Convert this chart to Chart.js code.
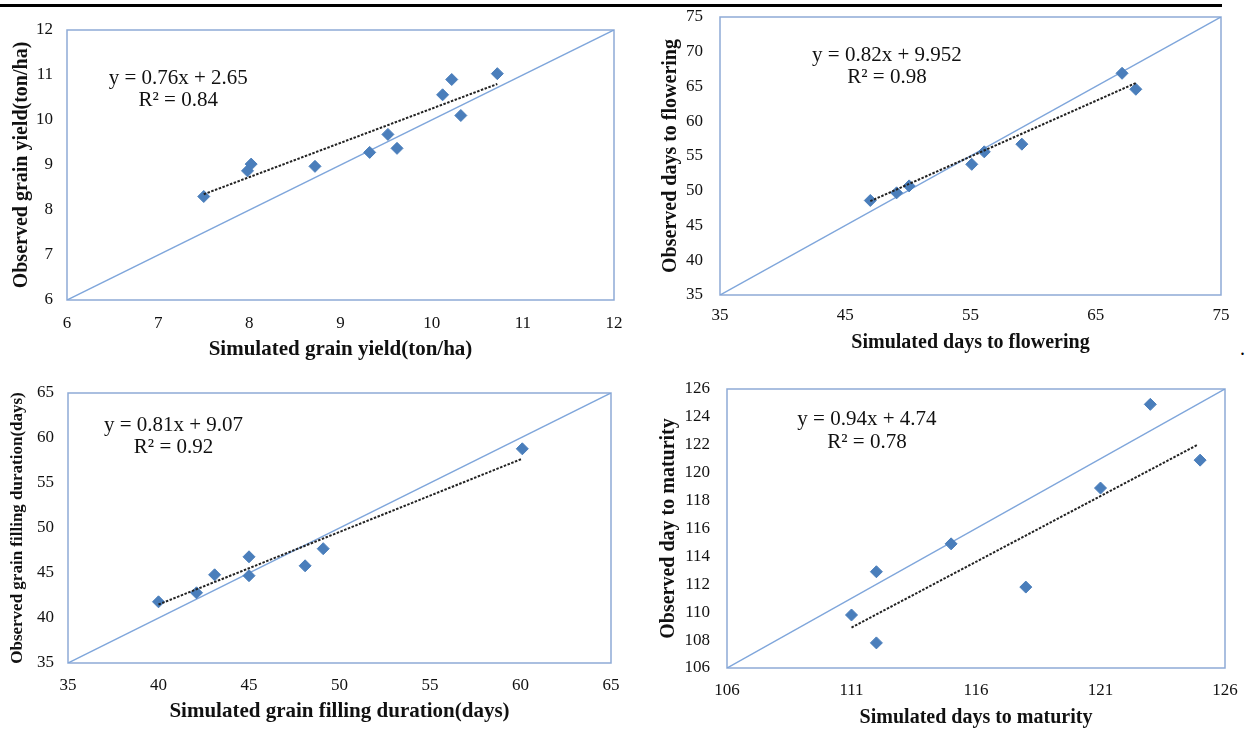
<!DOCTYPE html>
<html>
<head>
<meta charset="utf-8">
<script src="https://cdn.jsdelivr.net/npm/chart.js@4.4.1/dist/chart.umd.min.js"></script>
<style>
    body { margin: 0; background: #fff; width: 1247px; height: 731px; position: relative; overflow: hidden; font-family: "Liberation Serif", serif; }
    canvas { position: absolute; }
    #rule { position: absolute; left: 0; top: 4px; width: 1222px; height: 3px; background: #000; }
    #dot { position: absolute; left: 1240px; top: 338px; font-size: 20px; line-height: 20px; }
</style>
</head>
<body>
<div id="rule"></div>
<span id="dot">.</span>
<canvas id="yieldChart" width="630" height="360" style="left:0;top:10px"></canvas>
<canvas id="floweringChart" width="617" height="365" style="left:630px;top:0"></canvas>
<canvas id="fillingChart" width="630" height="361" style="left:0;top:370px"></canvas>
<canvas id="maturityChart" width="617" height="361" style="left:630px;top:370px"></canvas>
<script>
// Grain yield (ton/ha)
const yieldSim = [7.5, 7.98, 8.02, 8.72, 9.32, 9.52, 9.62, 10.12, 10.22, 10.32, 10.72];
const yieldObs = [8.3, 8.87, 9.02, 8.97, 9.28, 9.68, 9.37, 10.56, 10.9, 10.1, 11.03];
const yieldTrendX = [7.5, 10.72];
const yieldTrendY = [8.35, 10.8];
const yieldTicksX = [6, 7, 8, 9, 10, 11, 12];
const yieldTicksY = [6, 7, 8, 9, 10, 11, 12];
const yieldEquation = ['y = 0.76x + 2.65', 'R² = 0.84'];

// Days to flowering
const flowerSim = [47.0, 49.1, 50.1, 55.1, 56.1, 59.1, 67.1, 68.2];
const flowerObs = [48.6, 49.7, 50.7, 53.8, 55.6, 56.7, 66.9, 64.6];
const flowerTrendX = [47.0, 68.2];
const flowerTrendY = [48.5, 65.5];
const flowerTicksX = [35, 45, 55, 65, 75];
const flowerTicksY = [35, 40, 45, 50, 55, 60, 65, 70, 75];
const flowerEquation = ['y = 0.82x + 9.952', 'R² = 0.98'];

// Grain filling duration (days)
const fillSim = [40.0, 42.1, 43.1, 45.0, 45.0, 48.1, 49.1, 60.1];
const fillObs = [41.8, 42.8, 44.8, 46.8, 44.7, 45.8, 47.7, 58.8];
const fillTrendX = [40.0, 60.1];
const fillTrendY = [41.5, 57.7];
const fillTicksX = [35, 40, 45, 50, 55, 60, 65];
const fillTicksY = [35, 40, 45, 50, 55, 60, 65];
const fillEquation = ['y = 0.81x + 9.07', 'R² = 0.92'];

// Days to maturity
const maturitySim = [111.0, 112.0, 112.0, 115.0, 118.0, 121.0, 123.0, 125.0];
const maturityObs = [109.8, 112.9, 107.8, 114.9, 111.8, 118.9, 124.9, 120.9];
const maturityTrendX = [111.0, 124.9];
const maturityTrendY = [108.9, 122.0];
const maturityTicksX = [106, 111, 116, 121, 126];
const maturityTicksY = [106, 108, 110, 112, 114, 116, 118, 120, 122, 124, 126];
const maturityEquation = ['y = 0.94x + 4.74', 'R² = 0.78'];

const SERIF = '"Liberation Serif", "Times New Roman", serif';
const MARKER = '#4a7ebb';
const ONE_TO_ONE = '#7fa6db';
const FRAME = '#8eaad6';

const framePlugin = {
    id: 'frame',
    beforeDatasetsDraw(chart) {
        const a = chart.chartArea;
        const ctx = chart.ctx;
        ctx.save();
        ctx.strokeStyle = FRAME;
        ctx.lineWidth = 1.5;
        ctx.strokeRect(a.left, a.top, a.right - a.left, a.bottom - a.top);
        ctx.restore();
    },
    afterDatasetsDraw(chart, args, opts) {
        if (!opts.lines) return;
        const ctx = chart.ctx;
        const x = chart.scales.x.getPixelForValue(opts.at[0]);
        const y = chart.scales.y.getPixelForValue(opts.at[1]);
        ctx.save();
        ctx.fillStyle = '#111';
        ctx.font = '21px ' + SERIF;
        ctx.textAlign = 'center';
        ctx.textBaseline = 'middle';
        opts.lines.forEach((line, i) => ctx.fillText(line, x, y + i * 22.5));
        ctx.restore();
    }
};

function toPoints(xs, ys) {
    return xs.map((v, i) => ({ x: v, y: ys[i] }));
}

function makeChart(id, c) {
    const ctx = document.getElementById(id).getContext('2d');
    const box = c.box, plot = c.plot;
    const xFirst = c.ticksX[0], xLast = c.ticksX[c.ticksX.length - 1];
    const yFirst = c.ticksY[0], yLast = c.ticksY[c.ticksY.length - 1];

    return new Chart(ctx, {
        type: 'scatter',
        data: {
            datasets: [
                {
                    // linear trendline (dotted)
                    type: 'line',
                    data: toPoints(c.trendX, c.trendY),
                    borderColor: '#222',
                    borderWidth: 2,
                    borderDash: [2.5, 1.5],
                    pointRadius: 0,
                    fill: false
                },
                {
                    data: toPoints(c.sim, c.obs),
                    pointStyle: 'rectRot',
                    pointRadius: 6,
                    backgroundColor: MARKER,
                    borderColor: MARKER,
                    borderWidth: 1
                },
                {
                    // 1:1 line
                    type: 'line',
                    data: [{ x: xFirst, y: yFirst }, { x: xLast, y: yLast }],
                    borderColor: ONE_TO_ONE,
                    borderWidth: 1.5,
                    pointRadius: 0,
                    fill: false
                }
            ]
        },
        options: {
            responsive: false,
            animation: false,
            devicePixelRatio: 1,
            layout: {
                padding: { top: plot.t - box.y, right: box.x + box.w - plot.r, left: 0, bottom: 0 }
            },
            plugins: {
                legend: { display: false },
                tooltip: { enabled: false },
                frame: { lines: c.equation, at: c.equationAt }
            },
            scales: {
                x: {
                    type: 'linear',
                    min: xFirst,
                    max: xLast,
                    grid: { display: false, drawTicks: false },
                    border: { display: false },
                    afterBuildTicks: scale => { scale.ticks = c.ticksX.map(v => ({ value: v })); },
                    afterFit: scale => {
                        scale.height = box.y + box.h - plot.b;
                        scale.paddingLeft = 0;
                        scale.paddingRight = 0;
                    },
                    ticks: {
                        padding: c.tickPadX,
                        color: '#111',
                        font: { family: SERIF, size: 17 },
                        maxRotation: 0,
                        autoSkip: false
                    },
                    title: {
                        display: true,
                        text: c.xTitle,
                        color: '#111',
                        font: { family: SERIF, size: c.xTitleSize, weight: 'bold' },
                        padding: { top: 0, bottom: (box.y + box.h - c.xTitleY) - c.xTitleSize * 0.6 }
                    }
                },
                y: {
                    type: 'linear',
                    min: yFirst,
                    max: yLast,
                    grid: { display: false, drawTicks: false },
                    border: { display: false },
                    afterBuildTicks: scale => { scale.ticks = c.ticksY.map(v => ({ value: v })); },
                    afterFit: scale => {
                        scale.width = plot.l - box.x;
                        scale.paddingTop = 0;
                        scale.paddingBottom = 0;
                    },
                    ticks: {
                        padding: c.tickPadY,
                        color: '#111',
                        font: { family: SERIF, size: 17 },
                        autoSkip: false
                    },
                    title: {
                        display: true,
                        text: c.yTitle,
                        color: '#111',
                        font: { family: SERIF, size: c.yTitleSize, weight: 'bold' },
                        padding: { top: (c.yTitleX - box.x) - c.yTitleSize * 0.6, bottom: 0 }
                    }
                }
            }
        },
        plugins: [framePlugin]
    });
}

document.addEventListener('DOMContentLoaded', function() {
    makeChart('yieldChart', {
        sim: yieldSim, obs: yieldObs, trendX: yieldTrendX, trendY: yieldTrendY,
        ticksX: yieldTicksX, ticksY: yieldTicksY,
        equation: yieldEquation, equationAt: [7.22, 10.93],
        xTitle: 'Simulated grain yield(ton/ha)', yTitle: 'Observed grain yield(ton/ha)',
        box: { x: 0, y: 10, w: 630, h: 360 }, plot: { l: 67, t: 30, r: 614, b: 300 },
        tickPadX: 13, tickPadY: 14,
        xTitleSize: 21, xTitleY: 350, yTitleSize: 20, yTitleX: 22
    });

    makeChart('floweringChart', {
        sim: flowerSim, obs: flowerObs, trendX: flowerTrendX, trendY: flowerTrendY,
        ticksX: flowerTicksX, ticksY: flowerTicksY,
        equation: flowerEquation, equationAt: [48.33, 69.5],
        xTitle: 'Simulated days to flowering', yTitle: 'Observed days to flowering',
        box: { x: 630, y: 0, w: 617, h: 365 }, plot: { l: 720, t: 17, r: 1221, b: 295 },
        tickPadX: 10, tickPadY: 17,
        xTitleSize: 20, xTitleY: 343, yTitleSize: 20, yTitleX: 671
    });

    makeChart('fillingChart', {
        sim: fillSim, obs: fillObs, trendX: fillTrendX, trendY: fillTrendY,
        ticksX: fillTicksX, ticksY: fillTicksY,
        equation: fillEquation, equationAt: [40.83, 61.4],
        xTitle: 'Simulated grain filling duration(days)', yTitle: 'Observed grain filling duration(days)',
        box: { x: 0, y: 370, w: 630, h: 361 }, plot: { l: 68, t: 393, r: 611, b: 663 },
        tickPadX: 12, tickPadY: 14,
        xTitleSize: 21, xTitleY: 712, yTitleSize: 17, yTitleX: 18
    });

    makeChart('maturityChart', {
        sim: maturitySim, obs: maturityObs, trendX: maturityTrendX, trendY: maturityTrendY,
        ticksX: maturityTicksX, ticksY: maturityTicksY,
        equation: maturityEquation, equationAt: [111.62, 123.78],
        xTitle: 'Simulated days to maturity', yTitle: 'Observed day to maturity',
        box: { x: 630, y: 370, w: 617, h: 361 }, plot: { l: 727, t: 389, r: 1225, b: 668 },
        tickPadX: 12, tickPadY: 17,
        xTitleSize: 20, xTitleY: 718, yTitleSize: 20, yTitleX: 669
    });
});
</script>
</body>
</html>
